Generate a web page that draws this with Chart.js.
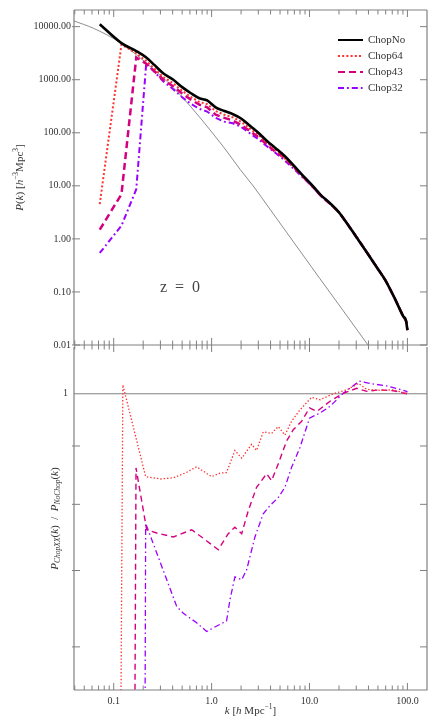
<!DOCTYPE html>
<html>
<head>
<meta charset="utf-8">
<script src="https://cdn.jsdelivr.net/npm/chart.js@4.4.1/dist/chart.umd.min.js"></script>
<style>
  html, body { margin: 0; padding: 0; background: #fff; }
  #wrap { position: relative; width: 436px; height: 727px; }
  canvas { position: absolute; left: 0; }
  #chart-pk { top: 0; }
  #chart-ratio { top: 335px; }
</style>
</head>
<body>
<div id="wrap">
  <canvas id="chart-pk" width="436" height="360"></canvas>
  <canvas id="chart-ratio" width="436" height="392"></canvas>
</div>
<script>
const K_MIN = 0.0393
const K_MAX = 158.5

// top panel: measured P(k)
const kTop = [0.072, 0.12, 0.17, 0.215, 0.26, 0.32, 0.40, 0.50, 0.62, 0.75, 0.90, 1.1, 1.35, 1.65, 2.0, 2.5, 3.0, 3.7, 4.5, 5.5, 7.0, 8.5, 10.5, 13, 16, 20, 25, 31, 39, 48, 60, 75, 90, 97, 100]
const pNoChop = [11100, 4900, 3470, 2630, 1900, 1320, 1020, 724, 550, 447, 407, 302, 257, 224, 186, 132, 100, 69.2, 51.3, 37.2, 23.4, 15.8, 10.5, 6.76, 4.79, 3.16, 1.78, 1.00, 0.537, 0.302, 0.162, 0.0724, 0.0355, 0.0282, 0.0191]
const pChop64 = [4.52, 4570, 3160, 2240, 1620, 1120, 871, 617, 468, 380, 347, 257, 219, 195, 162, 117, 91.2, 64.6, 47.9, 33.9, 22.4, 15.5, 10.4, 6.68, 4.76, 3.17, 1.79, 1.02, 0.542, 0.304, 0.163, 0.0729, 0.0356, 0.0282, 0.0191]
const pChop43 = [1.49, 6.95, 2630, 2000, 1450, 1000, 759, 550, 417, 339, 302, 219, 191, 170, 141, 105, 83.2, 58.9, 43.7, 33.9, 21.9, 15.1, 10.2, 6.53, 4.71, 3.16, 1.79, 1.01, 0.540, 0.304, 0.163, 0.0729, 0.0356, 0.0282, 0.0191]
const pChop32 = [0.543, 1.77, 8.63, 2040, 1410, 933, 676, 468, 347, 282, 251, 191, 162, 151, 129, 95.5, 75.9, 55.0, 41.7, 30.9, 20.4, 14.5, 10.0, 6.50, 4.67, 3.16, 1.80, 1.03, 0.548, 0.307, 0.165, 0.0731, 0.0358, 0.0283, 0.0191]

// thin curve (linear theory)
const kLinear = [0.0393, 0.062, 0.116, 0.25, 0.475, 1.34, 1.95, 2.66, 3.94, 5.83, 12.8, 38.5, 42]
const pLinear = [12800, 9330, 5010, 1620, 524, 52.4, 20.5, 9.95, 3.64, 1.33, 0.177, 0.0107, 0.0085]

// bottom panel: P_ChopXX / P_NoChop
const k64 = [0.072, 0.124, 0.212, 0.30, 0.406, 0.55, 0.703, 1.0, 1.22, 1.42, 1.73, 2.03, 2.56, 2.88, 3.37, 4.10, 4.79, 5.61, 6.56, 7.98, 10.5, 12.8, 17.5, 24.0, 31.6, 38.5, 52.5, 71.8, 100]
const r64 = [0.0004, 1.018, 0.846, 0.842, 0.844, 0.853, 0.863, 0.846, 0.852, 0.853, 0.892, 0.878, 0.903, 0.892, 0.926, 0.923, 0.936, 0.920, 0.946, 0.968, 0.993, 0.988, 1.0, 1.008, 1.021, 1.009, 1.007, 1.008, 1.0]
const k43 = [0.12, 0.169, 0.217, 0.275, 0.406, 0.627, 0.822, 1.17, 1.48, 1.73, 2.03, 2.37, 2.88, 3.65, 4.10, 4.79, 5.83, 6.82, 8.32, 10.0, 11.9, 16.2, 22.1, 30.3, 38.5, 52.5, 71.8, 100]
const r43 = [0.0014, 0.861, 0.760, 0.755, 0.749, 0.760, 0.747, 0.730, 0.754, 0.764, 0.754, 0.790, 0.828, 0.851, 0.839, 0.868, 0.909, 0.930, 0.946, 0.972, 0.965, 0.985, 1.001, 1.011, 1.005, 1.008, 1.006, 1.0]
const k32 = [0.172, 0.212, 0.44, 0.514, 0.703, 0.889, 1.22, 1.42, 1.54, 1.73, 2.03, 2.28, 2.77, 3.37, 3.95, 4.79, 5.61, 6.56, 7.98, 10.0, 12.8, 16.2, 22.1, 32.3, 41.4, 61.2, 83.8, 97.7, 100]
const r32 = [0.0026, 0.770, 0.651, 0.642, 0.630, 0.619, 0.628, 0.632, 0.660, 0.691, 0.687, 0.701, 0.749, 0.785, 0.798, 0.811, 0.828, 0.862, 0.897, 0.952, 0.962, 0.975, 1.001, 1.026, 1.021, 1.016, 1.009, 1.005, 1.003]

const pTickValues = [0.01, 0.1, 1, 10, 100, 1000, 10000]
const kTickValues = [0.1, 1, 10, 100]
const kTickLabels = ["0.1", "1.0", "10.0", "100.0"]
const ratioTickValues = [0.6, 0.7, 0.8, 0.9]

const SERIF = '"Liberation Serif", "DejaVu Serif", serif'
const AXIS_GREY = "#808080"
const TEXT = "#333"
const RED = "#ff3030"
const MAGENTA = "#d4007f"
const PURPLE = "#9a00ff"

const pts = (xs, ys) => xs.map((x, i) => ({ x, y: ys[i] }))

function logTicks(min, max) {
  const out = []
  for (let e = -2; e <= 2; e++) {
    for (let m = 1; m <= 9; m++) {
      const v = m * Math.pow(10, e)
      if (v > min && v < max) out.push({ v, major: m === 1 })
    }
  }
  return out
}

function tickMark(ctx, px, y, len, mode) {
  if (mode === "cross") {
    ctx.moveTo(px, y - Math.abs(len))
    ctx.lineTo(px, y + Math.abs(len))
  } else if (mode === "in") {
    ctx.moveTo(px, y)
    ctx.lineTo(px, y + len)
  }
}

function richText(ctx, parts, x, y, angle) {
  ctx.save()
  ctx.translate(x, y)
  ctx.rotate(angle)
  ctx.fillStyle = TEXT
  ctx.textBaseline = "middle"
  ctx.textAlign = "left"
  let w = 0
  for (const p of parts) {
    ctx.font = p.font
    p.w = ctx.measureText(p.t).width
    w += p.w
  }
  let cx = -w / 2
  for (const p of parts) {
    ctx.font = p.font
    ctx.fillText(p.t, cx, p.dy || 0)
    cx += p.w
  }
  ctx.restore()
}

const f = (size, italic) => `${italic ? "italic " : ""}${size}px ${SERIF}`

// frame, inward ticks and texts, placed with the chart's own scales
function framePlugin(cfg) {
  return {
    id: "frame",
    afterDraw(chart) {
      const { ctx, chartArea: a } = chart
      const xs = chart.scales.x
      const ys = chart.scales.y
      ctx.save()
      ctx.strokeStyle = AXIS_GREY
      ctx.lineWidth = 1
      ctx.beginPath()
      for (const t of logTicks(xs.min, xs.max)) {
        const px = xs.getPixelForValue(t.v)
        const len = t.major ? 7 : 4.5
        tickMark(ctx, px, a.top, len, cfg.topEdge)
        tickMark(ctx, px, a.bottom, -len, cfg.bottomEdge)
      }
      for (const v of cfg.yTicks) {
        const py = ys.getPixelForValue(v)
        ctx.moveTo(a.left - 2, py)
        ctx.lineTo(a.left + 6, py)
        ctx.moveTo(a.right - 7, py)
        ctx.lineTo(a.right, py)
      }
      ctx.stroke()
      ctx.lineWidth = 1.2
      ctx.beginPath()
      if (cfg.topEdge !== "none") {
        ctx.moveTo(a.left, a.top)
        ctx.lineTo(a.right, a.top)
      }
      ctx.moveTo(a.right, a.top)
      ctx.lineTo(a.right, a.bottom)
      ctx.lineTo(a.left, a.bottom)
      ctx.moveTo(a.left, a.top)
      ctx.lineTo(a.left, a.bottom)
      ctx.stroke()
      ctx.restore()
      cfg.text(chart)
    }
  }
}

function drawPkText(chart) {
  const { ctx, chartArea: a } = chart
  ctx.save()
  chart.data.datasets.filter(d => d.inLegend).forEach((d, i) => {
    const y = a.top + 30 + i * 16
    ctx.strokeStyle = d.borderColor
    ctx.lineWidth = Math.min(d.borderWidth, 2)
    ctx.setLineDash(d.borderDash || [])
    ctx.beginPath()
    ctx.moveTo(a.right - 89, y)
    ctx.lineTo(a.right - 64, y)
    ctx.stroke()
    ctx.setLineDash([])
    ctx.fillStyle = TEXT
    ctx.font = f(11)
    ctx.textBaseline = "middle"
    ctx.fillText(d.label, a.right - 59, y)
  })
  ctx.font = f(16)
  ctx.fillStyle = "#444"
  ctx.textAlign = "center"
  ctx.textBaseline = "middle"
  ctx.fillText("z  =  0", a.left + 106, a.bottom - 57)
  ctx.restore()

  richText(ctx, [
    { t: "P", font: f(11, true) },
    { t: "(", font: f(11) },
    { t: "k", font: f(11, true) },
    { t: ") [", font: f(11) },
    { t: "h", font: f(11, true) },
    { t: "\u22123", font: f(7.5), dy: -4 },
    { t: "Mpc", font: f(11) },
    { t: "3", font: f(7.5), dy: -4 },
    { t: "]", font: f(11) }
  ], 20, (a.top + a.bottom) / 2, -Math.PI / 2)
}

function drawRatioText(chart) {
  const { ctx, chartArea: a } = chart
  richText(ctx, [
    { t: "P", font: f(11, true) },
    { t: "ChopXX", font: f(7.5, true), dy: 3 },
    { t: "(", font: f(11) },
    { t: "k", font: f(11, true) },
    { t: ")  /  ", font: f(11) },
    { t: "P", font: f(11, true) },
    { t: "NoChop", font: f(7.5, true), dy: 3 },
    { t: "(", font: f(11) },
    { t: "k", font: f(11, true) },
    { t: ")", font: f(11) }
  ], 55, (a.top + a.bottom) / 2, -Math.PI / 2)

  richText(ctx, [
    { t: "k", font: f(11, true) },
    { t: " [", font: f(11) },
    { t: "h", font: f(11, true) },
    { t: " Mpc", font: f(11) },
    { t: "\u22121", font: f(7.5), dy: -4 },
    { t: "]", font: f(11) }
  ], (a.left + a.right) / 2, a.bottom + 21, 0)
}

const tickFont = { family: SERIF, size: 10 }

new Chart(document.getElementById("chart-pk"), {
  type: "line",
  data: {
    datasets: [
      { label: "ChopNo", inLegend: true, data: pts(kTop, pNoChop), borderColor: "#000", borderWidth: 2.6, borderJoinStyle: "round", cubicInterpolationMode: "monotone" },
      { label: "Chop64", inLegend: true, data: pts(kTop, pChop64), borderColor: RED, borderWidth: 2, borderDash: [2, 2.2] },
      { label: "Chop43", inLegend: true, data: pts(kTop, pChop43), borderColor: MAGENTA, borderWidth: 2.5, borderDash: [7, 4] },
      { label: "Chop32", inLegend: true, data: pts(kTop, pChop32), borderColor: PURPLE, borderWidth: 2, borderDash: [6, 3, 1.8, 3] },
      { label: "linear", data: pts(kLinear, pLinear), borderColor: "#707070", borderWidth: 0.8, cubicInterpolationMode: "monotone" }
    ]
  },
  options: {
    responsive: false,
    animation: false,
    events: [],
    layout: { padding: { top: 10, right: 9, bottom: 15, left: 0 } },
    elements: { point: { radius: 0 } },
    plugins: { legend: { display: false }, tooltip: { enabled: false } },
    scales: {
      x: { type: "logarithmic", min: K_MIN, max: K_MAX, display: false },
      y: {
        type: "logarithmic",
        min: 0.01,
        max: 20600,
        afterBuildTicks: s => { s.ticks = pTickValues.map(v => ({ value: v })) },
        afterFit: s => { s.width = 74 },
        grid: { display: false, drawTicks: false },
        border: { display: false },
        ticks: { callback: v => v.toFixed(2), font: tickFont, color: TEXT, padding: 3 }
      }
    }
  },
  plugins: [framePlugin({ topEdge: "in", bottomEdge: "cross", yTicks: pTickValues, text: drawPkText })]
})

new Chart(document.getElementById("chart-ratio"), {
  type: "line",
  data: {
    datasets: [
      { label: "Chop64", data: pts(k64, r64), borderColor: RED, borderWidth: 1.3, borderDash: [1.4, 2] },
      { label: "Chop43", data: pts(k43, r43), borderColor: MAGENTA, borderWidth: 1.4, borderDash: [6, 4] },
      { label: "Chop32", data: pts(k32, r32), borderColor: PURPLE, borderWidth: 1.3, borderDash: [6, 3, 1.5, 3] },
      { label: "unity", data: pts([K_MIN, K_MAX], [1, 1]), borderColor: AXIS_GREY, borderWidth: 1 }
    ]
  },
  options: {
    responsive: false,
    animation: false,
    events: [],
    layout: { padding: { top: 10, right: 9, bottom: 0, left: 0 } },
    elements: { point: { radius: 0 } },
    plugins: { legend: { display: false }, tooltip: { enabled: false } },
    scales: {
      x: {
        type: "logarithmic",
        min: K_MIN,
        max: K_MAX,
        afterBuildTicks: s => { s.ticks = kTickValues.map(v => ({ value: v })) },
        afterFit: s => { s.height = 37 },
        grid: { display: false, drawTicks: false },
        border: { display: false },
        ticks: { callback: v => kTickLabels[kTickValues.indexOf(v)], font: tickFont, color: TEXT, padding: 5, maxRotation: 0, autoSkip: false }
      },
      y: {
        type: "logarithmic",
        min: 0.551,
        max: 1.099,
        afterBuildTicks: s => { s.ticks = [{ value: 1 }] },
        afterFit: s => { s.width = 74 },
        grid: { display: false, drawTicks: false },
        border: { display: false },
        ticks: { callback: () => "1", font: tickFont, color: TEXT, padding: 6 }
      }
    }
  },
  plugins: [framePlugin({ topEdge: "none", bottomEdge: "in", yTicks: ratioTickValues, text: drawRatioText })]
})
</script>
</body>
</html>
